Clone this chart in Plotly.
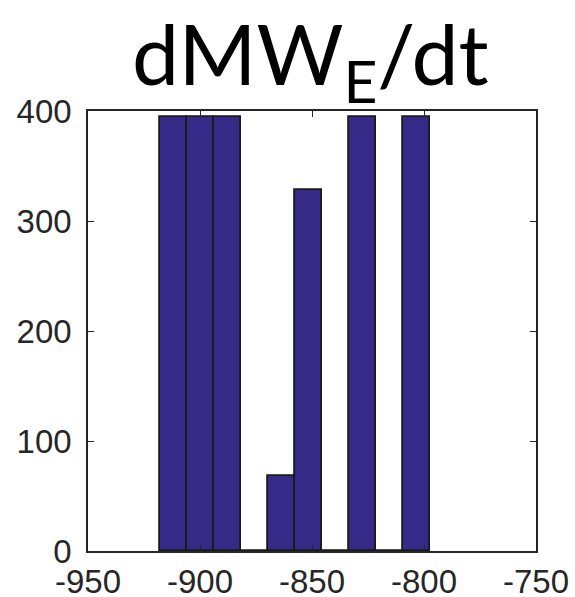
import plotly.graph_objects as go

bin_centers = [-911.95, -899.9, -887.85, -875.8, -863.75, -851.7, -839.65, -827.6, -815.55, -803.5]
counts = [395, 395, 395, 0, 68, 328, 0, 395, 0, 395]
bin_width = 12.05
x_ticks = [-950, -900, -850, -800, -750]
y_ticks = [0, 100, 200, 300, 400]
title_text = "dMW<sub>E</sub>/dt"

fig = go.Figure()
fig.add_trace(go.Bar(
    x=bin_centers, y=counts, width=[bin_width]*len(bin_centers),
    marker=dict(color="rgb(53,42,135)", line=dict(color="#1a1a1a", width=1.8)),
    showlegend=False,
))

axis_common = dict(
    showline=True, linecolor="#262626", linewidth=1.5, mirror="ticks",
    ticks="inside", ticklen=6, tickwidth=1.2, tickcolor="#262626",
    showgrid=False, zeroline=False, automargin=False,
    tickfont=dict(family="Liberation Sans", size=33, color="#262626"),
)
fig.update_xaxes(range=[-950, -750], tickvals=x_ticks, ticktext=[str(v) for v in x_ticks],
                 ticklabelstandoff=1, **axis_common)
fig.update_yaxes(range=[0, 400], tickvals=y_ticks, ticklabelstandoff=8, **axis_common)

fig.update_layout(
    width=575, height=597,
    margin=dict(l=88, r=39, t=111, b=46),
    plot_bgcolor="white", paper_bgcolor="white",
    bargap=0,
)
fig.add_annotation(
    text=title_text, xref="paper", yref="paper", x=0.497, y=0.984, xanchor="center", yanchor="bottom",
    showarrow=False, font=dict(family="Lato", size=84, color="black"),
)
fig.write_html("out.html")
